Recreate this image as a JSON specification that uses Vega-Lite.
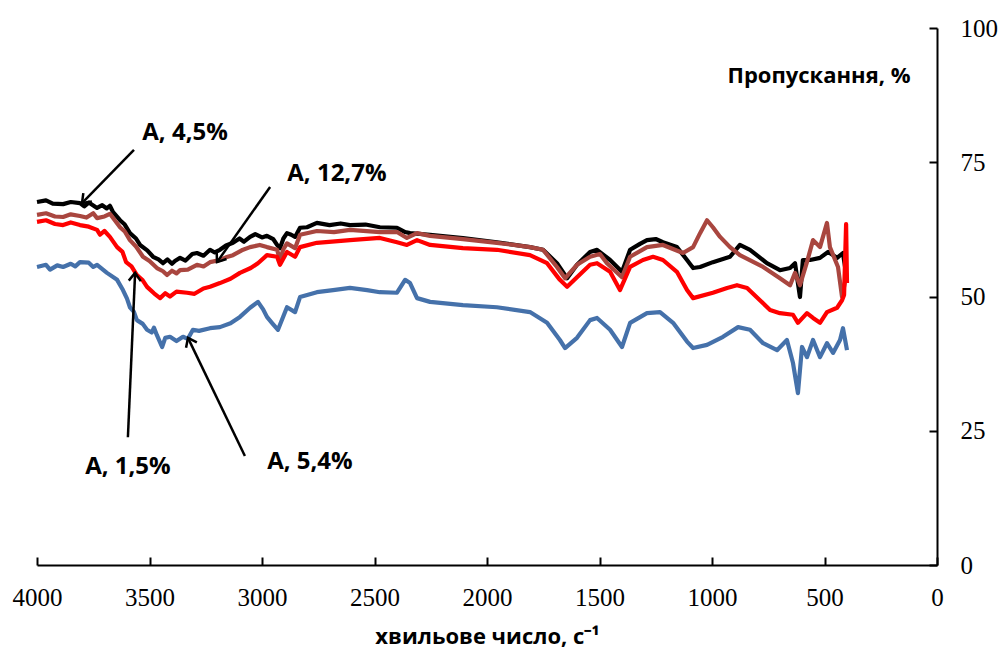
{
  "$schema": "https://vega.github.io/schema/vega-lite/v6.json",
  "width": 900,
  "height": 537,
  "autosize": {"type": "none"},
  "padding": {"left": 37, "top": 28, "right": 66, "bottom": 85},
  "background": "white",
  "config": {"view": {"stroke": null}},
  "datasets": {
    "spectra": [
      {"s":"A, 4,5%","wn":4000,"t":67.6},{"s":"A, 4,5%","wn":3960,"t":67.9},{"s":"A, 4,5%","wn":3930,"t":67.3},{"s":"A, 4,5%","wn":3884,"t":67.2},{"s":"A, 4,5%","wn":3850,"t":67.6},{"s":"A, 4,5%","wn":3809,"t":67.4},{"s":"A, 4,5%","wn":3790,"t":66.8},{"s":"A, 4,5%","wn":3770,"t":67.5},{"s":"A, 4,5%","wn":3733,"t":66.5},{"s":"A, 4,5%","wn":3710,"t":67.0},{"s":"A, 4,5%","wn":3690,"t":66.4},{"s":"A, 4,5%","wn":3676,"t":66.9},{"s":"A, 4,5%","wn":3662,"t":65.7},{"s":"A, 4,5%","wn":3631,"t":64.2},{"s":"A, 4,5%","wn":3610,"t":63.4},{"s":"A, 4,5%","wn":3587,"t":61.8},{"s":"A, 4,5%","wn":3560,"t":60.8},{"s":"A, 4,5%","wn":3542,"t":59.6},{"s":"A, 4,5%","wn":3510,"t":58.6},{"s":"A, 4,5%","wn":3484,"t":57.4},{"s":"A, 4,5%","wn":3460,"t":56.9},{"s":"A, 4,5%","wn":3440,"t":56.2},{"s":"A, 4,5%","wn":3420,"t":56.9},{"s":"A, 4,5%","wn":3400,"t":56.1},{"s":"A, 4,5%","wn":3387,"t":56.6},{"s":"A, 4,5%","wn":3364,"t":57.2},{"s":"A, 4,5%","wn":3340,"t":56.7},{"s":"A, 4,5%","wn":3310,"t":57.9},{"s":"A, 4,5%","wn":3289,"t":58.1},{"s":"A, 4,5%","wn":3260,"t":57.6},{"s":"A, 4,5%","wn":3231,"t":58.7},{"s":"A, 4,5%","wn":3210,"t":58.2},{"s":"A, 4,5%","wn":3187,"t":58.7},{"s":"A, 4,5%","wn":3160,"t":59.5},{"s":"A, 4,5%","wn":3129,"t":60.0},{"s":"A, 4,5%","wn":3100,"t":60.8},{"s":"A, 4,5%","wn":3080,"t":60.2},{"s":"A, 4,5%","wn":3053,"t":61.1},{"s":"A, 4,5%","wn":3030,"t":61.6},{"s":"A, 4,5%","wn":3000,"t":61.0},{"s":"A, 4,5%","wn":2978,"t":61.3},{"s":"A, 4,5%","wn":2950,"t":60.7},{"s":"A, 4,5%","wn":2933,"t":59.6},{"s":"A, 4,5%","wn":2920,"t":59.0},{"s":"A, 4,5%","wn":2905,"t":60.8},{"s":"A, 4,5%","wn":2889,"t":61.8},{"s":"A, 4,5%","wn":2870,"t":61.5},{"s":"A, 4,5%","wn":2853,"t":61.1},{"s":"A, 4,5%","wn":2831,"t":62.8},{"s":"A, 4,5%","wn":2800,"t":62.9},{"s":"A, 4,5%","wn":2756,"t":63.7},{"s":"A, 4,5%","wn":2700,"t":63.3},{"s":"A, 4,5%","wn":2650,"t":63.6},{"s":"A, 4,5%","wn":2609,"t":63.3},{"s":"A, 4,5%","wn":2540,"t":63.4},{"s":"A, 4,5%","wn":2476,"t":62.9},{"s":"A, 4,5%","wn":2400,"t":62.8},{"s":"A, 4,5%","wn":2364,"t":62.0},{"s":"A, 4,5%","wn":2342,"t":61.8},{"s":"A, 4,5%","wn":2253,"t":61.5},{"s":"A, 4,5%","wn":2107,"t":60.9},{"s":"A, 4,5%","wn":1956,"t":60.1},{"s":"A, 4,5%","wn":1809,"t":59.2},{"s":"A, 4,5%","wn":1751,"t":58.7},{"s":"A, 4,5%","wn":1689,"t":56.2},{"s":"A, 4,5%","wn":1644,"t":53.4},{"s":"A, 4,5%","wn":1600,"t":55.9},{"s":"A, 4,5%","wn":1542,"t":58.3},{"s":"A, 4,5%","wn":1511,"t":58.7},{"s":"A, 4,5%","wn":1453,"t":56.8},{"s":"A, 4,5%","wn":1400,"t":54.6},{"s":"A, 4,5%","wn":1364,"t":58.7},{"s":"A, 4,5%","wn":1320,"t":59.8},{"s":"A, 4,5%","wn":1289,"t":60.5},{"s":"A, 4,5%","wn":1250,"t":60.7},{"s":"A, 4,5%","wn":1218,"t":60.1},{"s":"A, 4,5%","wn":1156,"t":59.2},{"s":"A, 4,5%","wn":1111,"t":56.8},{"s":"A, 4,5%","wn":1084,"t":55.3},{"s":"A, 4,5%","wn":1053,"t":55.5},{"s":"A, 4,5%","wn":996,"t":56.4},{"s":"A, 4,5%","wn":920,"t":57.4},{"s":"A, 4,5%","wn":876,"t":59.6},{"s":"A, 4,5%","wn":831,"t":58.7},{"s":"A, 4,5%","wn":756,"t":56.2},{"s":"A, 4,5%","wn":698,"t":54.9},{"s":"A, 4,5%","wn":653,"t":55.3},{"s":"A, 4,5%","wn":631,"t":56.2},{"s":"A, 4,5%","wn":609,"t":49.9},{"s":"A, 4,5%","wn":596,"t":56.8},{"s":"A, 4,5%","wn":564,"t":56.8},{"s":"A, 4,5%","wn":520,"t":57.2},{"s":"A, 4,5%","wn":484,"t":58.3},{"s":"A, 4,5%","wn":444,"t":57.2},{"s":"A, 4,5%","wn":418,"t":58.1},{"s":"A, 4,5%","wn":400,"t":53.1},

      {"s":"A, 12,7%","wn":4000,"t":65.2},{"s":"A, 12,7%","wn":3960,"t":65.5},{"s":"A, 12,7%","wn":3920,"t":64.9},{"s":"A, 12,7%","wn":3884,"t":64.8},{"s":"A, 12,7%","wn":3850,"t":65.3},{"s":"A, 12,7%","wn":3809,"t":65.0},{"s":"A, 12,7%","wn":3780,"t":64.7},{"s":"A, 12,7%","wn":3750,"t":65.5},{"s":"A, 12,7%","wn":3733,"t":64.6},{"s":"A, 12,7%","wn":3700,"t":64.9},{"s":"A, 12,7%","wn":3676,"t":65.4},{"s":"A, 12,7%","wn":3631,"t":62.9},{"s":"A, 12,7%","wn":3610,"t":62.1},{"s":"A, 12,7%","wn":3587,"t":60.5},{"s":"A, 12,7%","wn":3560,"t":59.3},{"s":"A, 12,7%","wn":3529,"t":57.4},{"s":"A, 12,7%","wn":3500,"t":56.6},{"s":"A, 12,7%","wn":3467,"t":55.3},{"s":"A, 12,7%","wn":3440,"t":54.7},{"s":"A, 12,7%","wn":3422,"t":54.0},{"s":"A, 12,7%","wn":3400,"t":54.8},{"s":"A, 12,7%","wn":3380,"t":54.3},{"s":"A, 12,7%","wn":3364,"t":54.9},{"s":"A, 12,7%","wn":3330,"t":55.0},{"s":"A, 12,7%","wn":3289,"t":55.9},{"s":"A, 12,7%","wn":3260,"t":55.6},{"s":"A, 12,7%","wn":3231,"t":56.4},{"s":"A, 12,7%","wn":3187,"t":56.8},{"s":"A, 12,7%","wn":3160,"t":57.3},{"s":"A, 12,7%","wn":3129,"t":57.7},{"s":"A, 12,7%","wn":3090,"t":58.6},{"s":"A, 12,7%","wn":3053,"t":59.2},{"s":"A, 12,7%","wn":3010,"t":59.6},{"s":"A, 12,7%","wn":2978,"t":59.2},{"s":"A, 12,7%","wn":2933,"t":58.7},{"s":"A, 12,7%","wn":2920,"t":56.8},{"s":"A, 12,7%","wn":2905,"t":58.8},{"s":"A, 12,7%","wn":2889,"t":59.9},{"s":"A, 12,7%","wn":2853,"t":59.0},{"s":"A, 12,7%","wn":2831,"t":61.5},{"s":"A, 12,7%","wn":2756,"t":62.2},{"s":"A, 12,7%","wn":2680,"t":62.0},{"s":"A, 12,7%","wn":2609,"t":62.4},{"s":"A, 12,7%","wn":2476,"t":62.0},{"s":"A, 12,7%","wn":2400,"t":62.0},{"s":"A, 12,7%","wn":2356,"t":60.9},{"s":"A, 12,7%","wn":2311,"t":61.8},{"s":"A, 12,7%","wn":2253,"t":61.3},{"s":"A, 12,7%","wn":2107,"t":60.7},{"s":"A, 12,7%","wn":1956,"t":60.0},{"s":"A, 12,7%","wn":1809,"t":59.2},{"s":"A, 12,7%","wn":1751,"t":58.7},{"s":"A, 12,7%","wn":1689,"t":55.5},{"s":"A, 12,7%","wn":1653,"t":53.4},{"s":"A, 12,7%","wn":1600,"t":55.9},{"s":"A, 12,7%","wn":1542,"t":57.4},{"s":"A, 12,7%","wn":1498,"t":57.9},{"s":"A, 12,7%","wn":1467,"t":56.2},{"s":"A, 12,7%","wn":1400,"t":53.6},{"s":"A, 12,7%","wn":1364,"t":57.4},{"s":"A, 12,7%","wn":1289,"t":59.2},{"s":"A, 12,7%","wn":1218,"t":59.6},{"s":"A, 12,7%","wn":1129,"t":58.1},{"s":"A, 12,7%","wn":1084,"t":59.2},{"s":"A, 12,7%","wn":1053,"t":61.8},{"s":"A, 12,7%","wn":1022,"t":64.2},{"s":"A, 12,7%","wn":996,"t":62.9},{"s":"A, 12,7%","wn":964,"t":61.1},{"s":"A, 12,7%","wn":920,"t":59.2},{"s":"A, 12,7%","wn":876,"t":57.7},{"s":"A, 12,7%","wn":773,"t":55.5},{"s":"A, 12,7%","wn":698,"t":53.4},{"s":"A, 12,7%","wn":653,"t":52.1},{"s":"A, 12,7%","wn":631,"t":54.4},{"s":"A, 12,7%","wn":609,"t":52.1},{"s":"A, 12,7%","wn":578,"t":56.4},{"s":"A, 12,7%","wn":551,"t":60.5},{"s":"A, 12,7%","wn":520,"t":59.2},{"s":"A, 12,7%","wn":489,"t":63.7},{"s":"A, 12,7%","wn":476,"t":59.2},{"s":"A, 12,7%","wn":440,"t":55.5},{"s":"A, 12,7%","wn":422,"t":49.9},{"s":"A, 12,7%","wn":409,"t":52.7},

      {"s":"A, 1,5%","wn":4000,"t":63.9},{"s":"A, 1,5%","wn":3960,"t":64.2},{"s":"A, 1,5%","wn":3920,"t":63.5},{"s":"A, 1,5%","wn":3884,"t":63.3},{"s":"A, 1,5%","wn":3850,"t":63.8},{"s":"A, 1,5%","wn":3809,"t":63.3},{"s":"A, 1,5%","wn":3770,"t":63.0},{"s":"A, 1,5%","wn":3733,"t":62.4},{"s":"A, 1,5%","wn":3720,"t":61.5},{"s":"A, 1,5%","wn":3700,"t":62.2},{"s":"A, 1,5%","wn":3676,"t":61.1},{"s":"A, 1,5%","wn":3644,"t":59.2},{"s":"A, 1,5%","wn":3620,"t":58.3},{"s":"A, 1,5%","wn":3604,"t":56.4},{"s":"A, 1,5%","wn":3580,"t":55.6},{"s":"A, 1,5%","wn":3556,"t":54.0},{"s":"A, 1,5%","wn":3530,"t":53.0},{"s":"A, 1,5%","wn":3511,"t":51.8},{"s":"A, 1,5%","wn":3480,"t":50.6},{"s":"A, 1,5%","wn":3453,"t":49.7},{"s":"A, 1,5%","wn":3430,"t":50.6},{"s":"A, 1,5%","wn":3409,"t":50.0},{"s":"A, 1,5%","wn":3380,"t":50.9},{"s":"A, 1,5%","wn":3333,"t":50.7},{"s":"A, 1,5%","wn":3300,"t":50.5},{"s":"A, 1,5%","wn":3260,"t":51.5},{"s":"A, 1,5%","wn":3231,"t":51.8},{"s":"A, 1,5%","wn":3187,"t":52.5},{"s":"A, 1,5%","wn":3140,"t":53.3},{"s":"A, 1,5%","wn":3098,"t":54.4},{"s":"A, 1,5%","wn":3050,"t":55.3},{"s":"A, 1,5%","wn":3018,"t":56.2},{"s":"A, 1,5%","wn":2978,"t":57.7},{"s":"A, 1,5%","wn":2933,"t":57.4},{"s":"A, 1,5%","wn":2920,"t":55.9},{"s":"A, 1,5%","wn":2889,"t":58.3},{"s":"A, 1,5%","wn":2853,"t":57.4},{"s":"A, 1,5%","wn":2831,"t":59.2},{"s":"A, 1,5%","wn":2756,"t":60.0},{"s":"A, 1,5%","wn":2609,"t":60.5},{"s":"A, 1,5%","wn":2476,"t":60.9},{"s":"A, 1,5%","wn":2400,"t":60.1},{"s":"A, 1,5%","wn":2356,"t":59.6},{"s":"A, 1,5%","wn":2311,"t":60.5},{"s":"A, 1,5%","wn":2253,"t":59.6},{"s":"A, 1,5%","wn":2107,"t":59.0},{"s":"A, 1,5%","wn":1956,"t":58.7},{"s":"A, 1,5%","wn":1809,"t":57.7},{"s":"A, 1,5%","wn":1733,"t":56.2},{"s":"A, 1,5%","wn":1676,"t":53.1},{"s":"A, 1,5%","wn":1644,"t":51.8},{"s":"A, 1,5%","wn":1600,"t":53.6},{"s":"A, 1,5%","wn":1542,"t":55.9},{"s":"A, 1,5%","wn":1511,"t":56.2},{"s":"A, 1,5%","wn":1453,"t":54.6},{"s":"A, 1,5%","wn":1409,"t":51.2},{"s":"A, 1,5%","wn":1364,"t":55.5},{"s":"A, 1,5%","wn":1307,"t":56.8},{"s":"A, 1,5%","wn":1262,"t":57.4},{"s":"A, 1,5%","wn":1218,"t":56.8},{"s":"A, 1,5%","wn":1156,"t":54.6},{"s":"A, 1,5%","wn":1111,"t":51.2},{"s":"A, 1,5%","wn":1084,"t":49.7},{"s":"A, 1,5%","wn":996,"t":50.7},{"s":"A, 1,5%","wn":933,"t":51.6},{"s":"A, 1,5%","wn":889,"t":52.1},{"s":"A, 1,5%","wn":844,"t":51.6},{"s":"A, 1,5%","wn":787,"t":49.3},{"s":"A, 1,5%","wn":742,"t":47.5},{"s":"A, 1,5%","wn":698,"t":46.9},{"s":"A, 1,5%","wn":640,"t":46.6},{"s":"A, 1,5%","wn":618,"t":45.1},{"s":"A, 1,5%","wn":578,"t":46.9},{"s":"A, 1,5%","wn":551,"t":46.0},{"s":"A, 1,5%","wn":520,"t":45.1},{"s":"A, 1,5%","wn":489,"t":47.1},{"s":"A, 1,5%","wn":444,"t":47.9},{"s":"A, 1,5%","wn":422,"t":49.3},{"s":"A, 1,5%","wn":413,"t":50.3},{"s":"A, 1,5%","wn":404,"t":63.5},{"s":"A, 1,5%","wn":400,"t":52.5},

      {"s":"A, 5,4%","wn":4000,"t":55.5},{"s":"A, 5,4%","wn":3960,"t":55.9},{"s":"A, 5,4%","wn":3942,"t":55.0},{"s":"A, 5,4%","wn":3910,"t":55.8},{"s":"A, 5,4%","wn":3884,"t":55.5},{"s":"A, 5,4%","wn":3850,"t":56.1},{"s":"A, 5,4%","wn":3830,"t":55.6},{"s":"A, 5,4%","wn":3809,"t":56.4},{"s":"A, 5,4%","wn":3770,"t":56.3},{"s":"A, 5,4%","wn":3750,"t":55.5},{"s":"A, 5,4%","wn":3733,"t":55.9},{"s":"A, 5,4%","wn":3689,"t":54.4},{"s":"A, 5,4%","wn":3644,"t":53.1},{"s":"A, 5,4%","wn":3618,"t":51.2},{"s":"A, 5,4%","wn":3600,"t":49.6},{"s":"A, 5,4%","wn":3587,"t":48.0},{"s":"A, 5,4%","wn":3570,"t":47.2},{"s":"A, 5,4%","wn":3556,"t":45.6},{"s":"A, 5,4%","wn":3530,"t":44.9},{"s":"A, 5,4%","wn":3511,"t":43.8},{"s":"A, 5,4%","wn":3490,"t":43.3},{"s":"A, 5,4%","wn":3480,"t":44.2},{"s":"A, 5,4%","wn":3467,"t":42.8},{"s":"A, 5,4%","wn":3444,"t":40.6},{"s":"A, 5,4%","wn":3430,"t":42.3},{"s":"A, 5,4%","wn":3409,"t":42.5},{"s":"A, 5,4%","wn":3380,"t":41.7},{"s":"A, 5,4%","wn":3351,"t":42.5},{"s":"A, 5,4%","wn":3330,"t":42.1},{"s":"A, 5,4%","wn":3307,"t":43.8},{"s":"A, 5,4%","wn":3280,"t":43.6},{"s":"A, 5,4%","wn":3231,"t":44.1},{"s":"A, 5,4%","wn":3187,"t":44.3},{"s":"A, 5,4%","wn":3140,"t":45.0},{"s":"A, 5,4%","wn":3098,"t":46.2},{"s":"A, 5,4%","wn":3053,"t":47.9},{"s":"A, 5,4%","wn":3018,"t":49.0},{"s":"A, 5,4%","wn":2995,"t":47.6},{"s":"A, 5,4%","wn":2978,"t":46.2},{"s":"A, 5,4%","wn":2956,"t":45.1},{"s":"A, 5,4%","wn":2929,"t":43.8},{"s":"A, 5,4%","wn":2889,"t":48.0},{"s":"A, 5,4%","wn":2853,"t":47.1},{"s":"A, 5,4%","wn":2831,"t":49.9},{"s":"A, 5,4%","wn":2756,"t":50.8},{"s":"A, 5,4%","wn":2684,"t":51.2},{"s":"A, 5,4%","wn":2609,"t":51.6},{"s":"A, 5,4%","wn":2533,"t":51.2},{"s":"A, 5,4%","wn":2476,"t":50.8},{"s":"A, 5,4%","wn":2400,"t":50.7},{"s":"A, 5,4%","wn":2364,"t":53.1},{"s":"A, 5,4%","wn":2342,"t":52.5},{"s":"A, 5,4%","wn":2311,"t":49.7},{"s":"A, 5,4%","wn":2253,"t":49.0},{"s":"A, 5,4%","wn":2107,"t":48.4},{"s":"A, 5,4%","wn":1956,"t":48.0},{"s":"A, 5,4%","wn":1809,"t":47.1},{"s":"A, 5,4%","wn":1733,"t":45.1},{"s":"A, 5,4%","wn":1676,"t":41.9},{"s":"A, 5,4%","wn":1653,"t":40.4},{"s":"A, 5,4%","wn":1600,"t":42.3},{"s":"A, 5,4%","wn":1542,"t":45.6},{"s":"A, 5,4%","wn":1511,"t":46.0},{"s":"A, 5,4%","wn":1453,"t":43.8},{"s":"A, 5,4%","wn":1400,"t":40.6},{"s":"A, 5,4%","wn":1364,"t":45.1},{"s":"A, 5,4%","wn":1289,"t":46.9},{"s":"A, 5,4%","wn":1231,"t":47.1},{"s":"A, 5,4%","wn":1173,"t":45.1},{"s":"A, 5,4%","wn":1111,"t":41.6},{"s":"A, 5,4%","wn":1084,"t":40.4},{"s":"A, 5,4%","wn":1022,"t":41.0},{"s":"A, 5,4%","wn":951,"t":42.5},{"s":"A, 5,4%","wn":884,"t":44.3},{"s":"A, 5,4%","wn":831,"t":43.8},{"s":"A, 5,4%","wn":773,"t":41.3},{"s":"A, 5,4%","wn":711,"t":40.0},{"s":"A, 5,4%","wn":667,"t":41.9},{"s":"A, 5,4%","wn":640,"t":37.6},{"s":"A, 5,4%","wn":618,"t":32.0},{"s":"A, 5,4%","wn":600,"t":40.6},{"s":"A, 5,4%","wn":578,"t":38.7},{"s":"A, 5,4%","wn":551,"t":41.9},{"s":"A, 5,4%","wn":520,"t":38.7},{"s":"A, 5,4%","wn":489,"t":41.3},{"s":"A, 5,4%","wn":462,"t":39.5},{"s":"A, 5,4%","wn":431,"t":41.9},{"s":"A, 5,4%","wn":418,"t":44.1},{"s":"A, 5,4%","wn":400,"t":40.0}
    ],
    "labels": [
      {"label":"A, 4,5%","lx":3342,"ly":80.4},
      {"label":"A, 12,7%","lx":2667,"ly":72.8},
      {"label":"A, 1,5%","lx":3596,"ly":18.2},
      {"label":"A, 5,4%","lx":2787,"ly":19.2}
    ],
    "arrows": [
      {"label":"A, 4,5%","ax":3800,"ay":67.4,"bx":3569,"by":77.3},
      {"label":"A, 12,7%","ax":3200,"ay":56.4,"bx":2964,"by":70.4},
      {"label":"A, 1,5%","ax":3564,"ay":54.4,"bx":3596,"by":23.8},
      {"label":"A, 5,4%","ax":3329,"ay":42.3,"bx":3076,"by":20.3}
    ]
  },
  "layer": [
    {
      "data": {"name": "spectra"},
      "mark": {"type": "line", "strokeWidth": 4.2, "strokeJoin": "round"},
      "encoding": {
        "x": {"field": "wn", "type": "quantitative",
          "scale": {"domain": [0, 4000], "reverse": true},
          "axis": {"values": [0,500,1000,1500,2000,2500,3000,3500,4000], "format": "d",
            "title": "хвильове число, с⁻¹", "titleFont": "Open Sans", "titleFontWeight": "bold", "titleFontSize": 22, "titleColor": "black", "titlePadding": 16,
            "labelFont": "Liberation Serif", "labelFontSize": 25, "labelColor": "black", "labelPadding": 28, "labelFlush": false, "labelOverlap": false,
            "tickSize": -8, "tickColor": "black", "tickWidth": 2, "domainColor": "black", "domainWidth": 2, "grid": false}},
        "y": {"field": "t", "type": "quantitative",
          "scale": {"domain": [0, 100]},
          "axis": {"orient": "right", "values": [0,25,50,75,100],
            "title": "Пропускання, %", "titleFont": "Open Sans", "titleFontWeight": "bold", "titleFontSize": 22, "titleColor": "black",
            "titleAngle": 0, "titleX": -27, "titleY": 47, "titleAlign": "right", "titleBaseline": "middle",
            "labelFont": "Liberation Serif", "labelFontSize": 25, "labelColor": "black", "labelPadding": 31, "labelFlush": false, "labelOverlap": false,
            "tickSize": -8, "tickColor": "black", "tickWidth": 2, "domainColor": "black", "domainWidth": 2, "grid": false}},
        "color": {"field": "s", "type": "nominal",
          "scale": {"domain": ["A, 4,5%","A, 12,7%","A, 1,5%","A, 5,4%"], "range": ["#000000","#A9463F","#FF0000","#4571AA"]},
          "legend": null}
      }
    },
    {
      "data": {"name": "arrows"},
      "mark": {"type": "rule", "strokeWidth": 2.5, "color": "black"},
      "encoding": {
        "x": {"field": "ax", "type": "quantitative"},
        "y": {"field": "ay", "type": "quantitative"},
        "x2": {"field": "bx"},
        "y2": {"field": "by"}
      }
    },
    {
      "data": {"name": "arrows"},
      "transform": [{"filter": "datum.label === 'A, 4,5%'"}],
      "mark": {"type": "point", "shape": "M-1,-0.75L0,0L-1,0.75", "filled": false, "stroke": "black", "strokeWidth": 2.5, "size": 256, "angle": 134.5, "opacity": 1},
      "encoding": {"x": {"field": "ax", "type": "quantitative"}, "y": {"field": "ay", "type": "quantitative"}}
    },
    {
      "data": {"name": "arrows"},
      "transform": [{"filter": "datum.label === 'A, 12,7%'"}],
      "mark": {"type": "point", "shape": "M-1,-0.75L0,0L-1,0.75", "filled": false, "stroke": "black", "strokeWidth": 2.5, "size": 256, "angle": 125.2, "opacity": 1},
      "encoding": {"x": {"field": "ax", "type": "quantitative"}, "y": {"field": "ay", "type": "quantitative"}}
    },
    {
      "data": {"name": "arrows"},
      "transform": [{"filter": "datum.label === 'A, 1,5%'"}],
      "mark": {"type": "point", "shape": "M-1,-0.75L0,0L-1,0.75", "filled": false, "stroke": "black", "strokeWidth": 2.5, "size": 256, "angle": 272.4, "opacity": 1},
      "encoding": {"x": {"field": "ax", "type": "quantitative"}, "y": {"field": "ay", "type": "quantitative"}}
    },
    {
      "data": {"name": "arrows"},
      "transform": [{"filter": "datum.label === 'A, 5,4%'"}],
      "mark": {"type": "point", "shape": "M-1,-0.75L0,0L-1,0.75", "filled": false, "stroke": "black", "strokeWidth": 2.5, "size": 256, "angle": 244.2, "opacity": 1},
      "encoding": {"x": {"field": "ax", "type": "quantitative"}, "y": {"field": "ay", "type": "quantitative"}}
    },
    {
      "data": {"name": "labels"},
      "mark": {"type": "text", "font": "Open Sans", "fontWeight": "bold", "fontSize": 24, "color": "black", "align": "center", "baseline": "middle"},
      "encoding": {
        "x": {"field": "lx", "type": "quantitative"},
        "y": {"field": "ly", "type": "quantitative"},
        "text": {"field": "label"}
      }
    }
  ]
}
